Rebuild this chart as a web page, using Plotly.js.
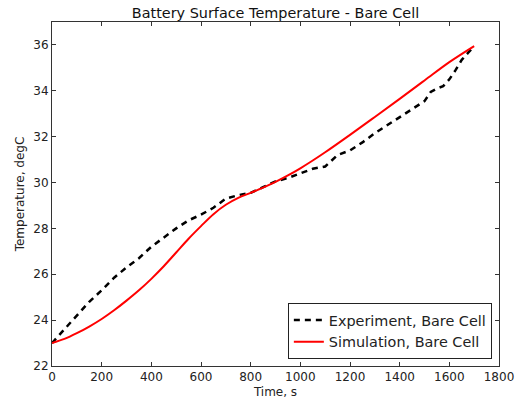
<!DOCTYPE html>
<html>
<head>
<meta charset="utf-8">
<script src="https://cdn.plot.ly/plotly-3.0.1.min.js"></script>
<style>html,body{margin:0;padding:0;background:#fff;}#chart{width:518px;height:402px;}</style>
</head>
<body>
<div id="chart"></div>
<script>
const expTime = [0,25,50,100,150,200,250,300,350,400,450,500,550,600,650,700,750,800,850,900,950,1000,1050,1100,1150,1200,1250,1300,1350,1400,1450,1500,1525,1550,1575,1600,1625,1650,1675,1700];
const expTemp = [23.0,23.3,23.6,24.2,24.8,25.3,25.85,26.3,26.7,27.2,27.6,28.0,28.35,28.6,28.9,29.3,29.45,29.55,29.8,30.05,30.2,30.4,30.6,30.7,31.2,31.4,31.75,32.15,32.5,32.85,33.2,33.55,33.95,34.1,34.2,34.5,34.9,35.35,35.65,35.95];
const simTime = [0,50,100,150,200,250,300,350,400,450,500,550,600,650,700,750,800,850,900,950,1000,1050,1100,1200,1300,1400,1500,1600,1700];
const simTemp = [23.0,23.18,23.43,23.72,24.05,24.43,24.85,25.3,25.8,26.35,26.95,27.55,28.1,28.62,29.03,29.33,29.55,29.78,30.03,30.31,30.62,30.96,31.32,32.08,32.86,33.65,34.45,35.25,35.95];
const xTicks = [0,200,400,600,800,1000,1200,1400,1600,1800];
const yTicks = [22,24,26,28,30,32,34,36];

const font = {family: 'DejaVu Sans, sans-serif', size: 12, color: '#222'};
const data = [
  {x: expTime, y: expTemp, type: 'scatter', mode: 'lines', name: 'Experiment, Bare Cell',
   line: {color: 'black', width: 2.5, dash: '6px,5px'}},
  {x: simTime, y: simTemp, type: 'scatter', mode: 'lines', name: 'Simulation, Bare Cell',
   line: {color: '#ff0000', width: 2, shape: 'spline', smoothing: 1}}
];
const axisCommon = {
  showgrid: false, zeroline: false, showline: true, linecolor: '#333', linewidth: 1,
  mirror: 'ticks', ticks: 'inside', ticklen: 4, tickcolor: '#333', tickfont: font
};
const layout = {
  width: 518, height: 402,
  margin: {l: 52, r: 19, t: 22, b: 36},
  paper_bgcolor: '#fff', plot_bgcolor: '#fff',
  font: font,
  title: {text: 'Battery Surface Temperature - Bare Cell', font: {family: 'DejaVu Sans, sans-serif', size: 14.4, color: '#111'},
    xref: 'paper', x: 0.5, xanchor: 'center', yref: 'container', y: 0.968, yanchor: 'middle'},
  xaxis: Object.assign({}, axisCommon, {range: [0, 1800], tickvals: xTicks, ticktext: xTicks.map(String),
    title: {text: 'Time, s', font: font, standoff: 4}}),
  yaxis: Object.assign({}, axisCommon, {range: [22, 37], tickvals: yTicks, ticktext: yTicks.map(String),
    title: {text: 'Temperature, degC', font: font, standoff: 6}}),
  showlegend: true,
  legend: {x: 0.984, y: 0.02, xanchor: 'right', yanchor: 'bottom', bordercolor: '#222', borderwidth: 1,
    bgcolor: '#fff', font: {family: 'DejaVu Sans, sans-serif', size: 14.4, color: '#222'}, tracegroupgap: 0}
};
Plotly.newPlot('chart', data, layout, {displayModeBar: false, staticPlot: true});
</script>
</body>
</html>
